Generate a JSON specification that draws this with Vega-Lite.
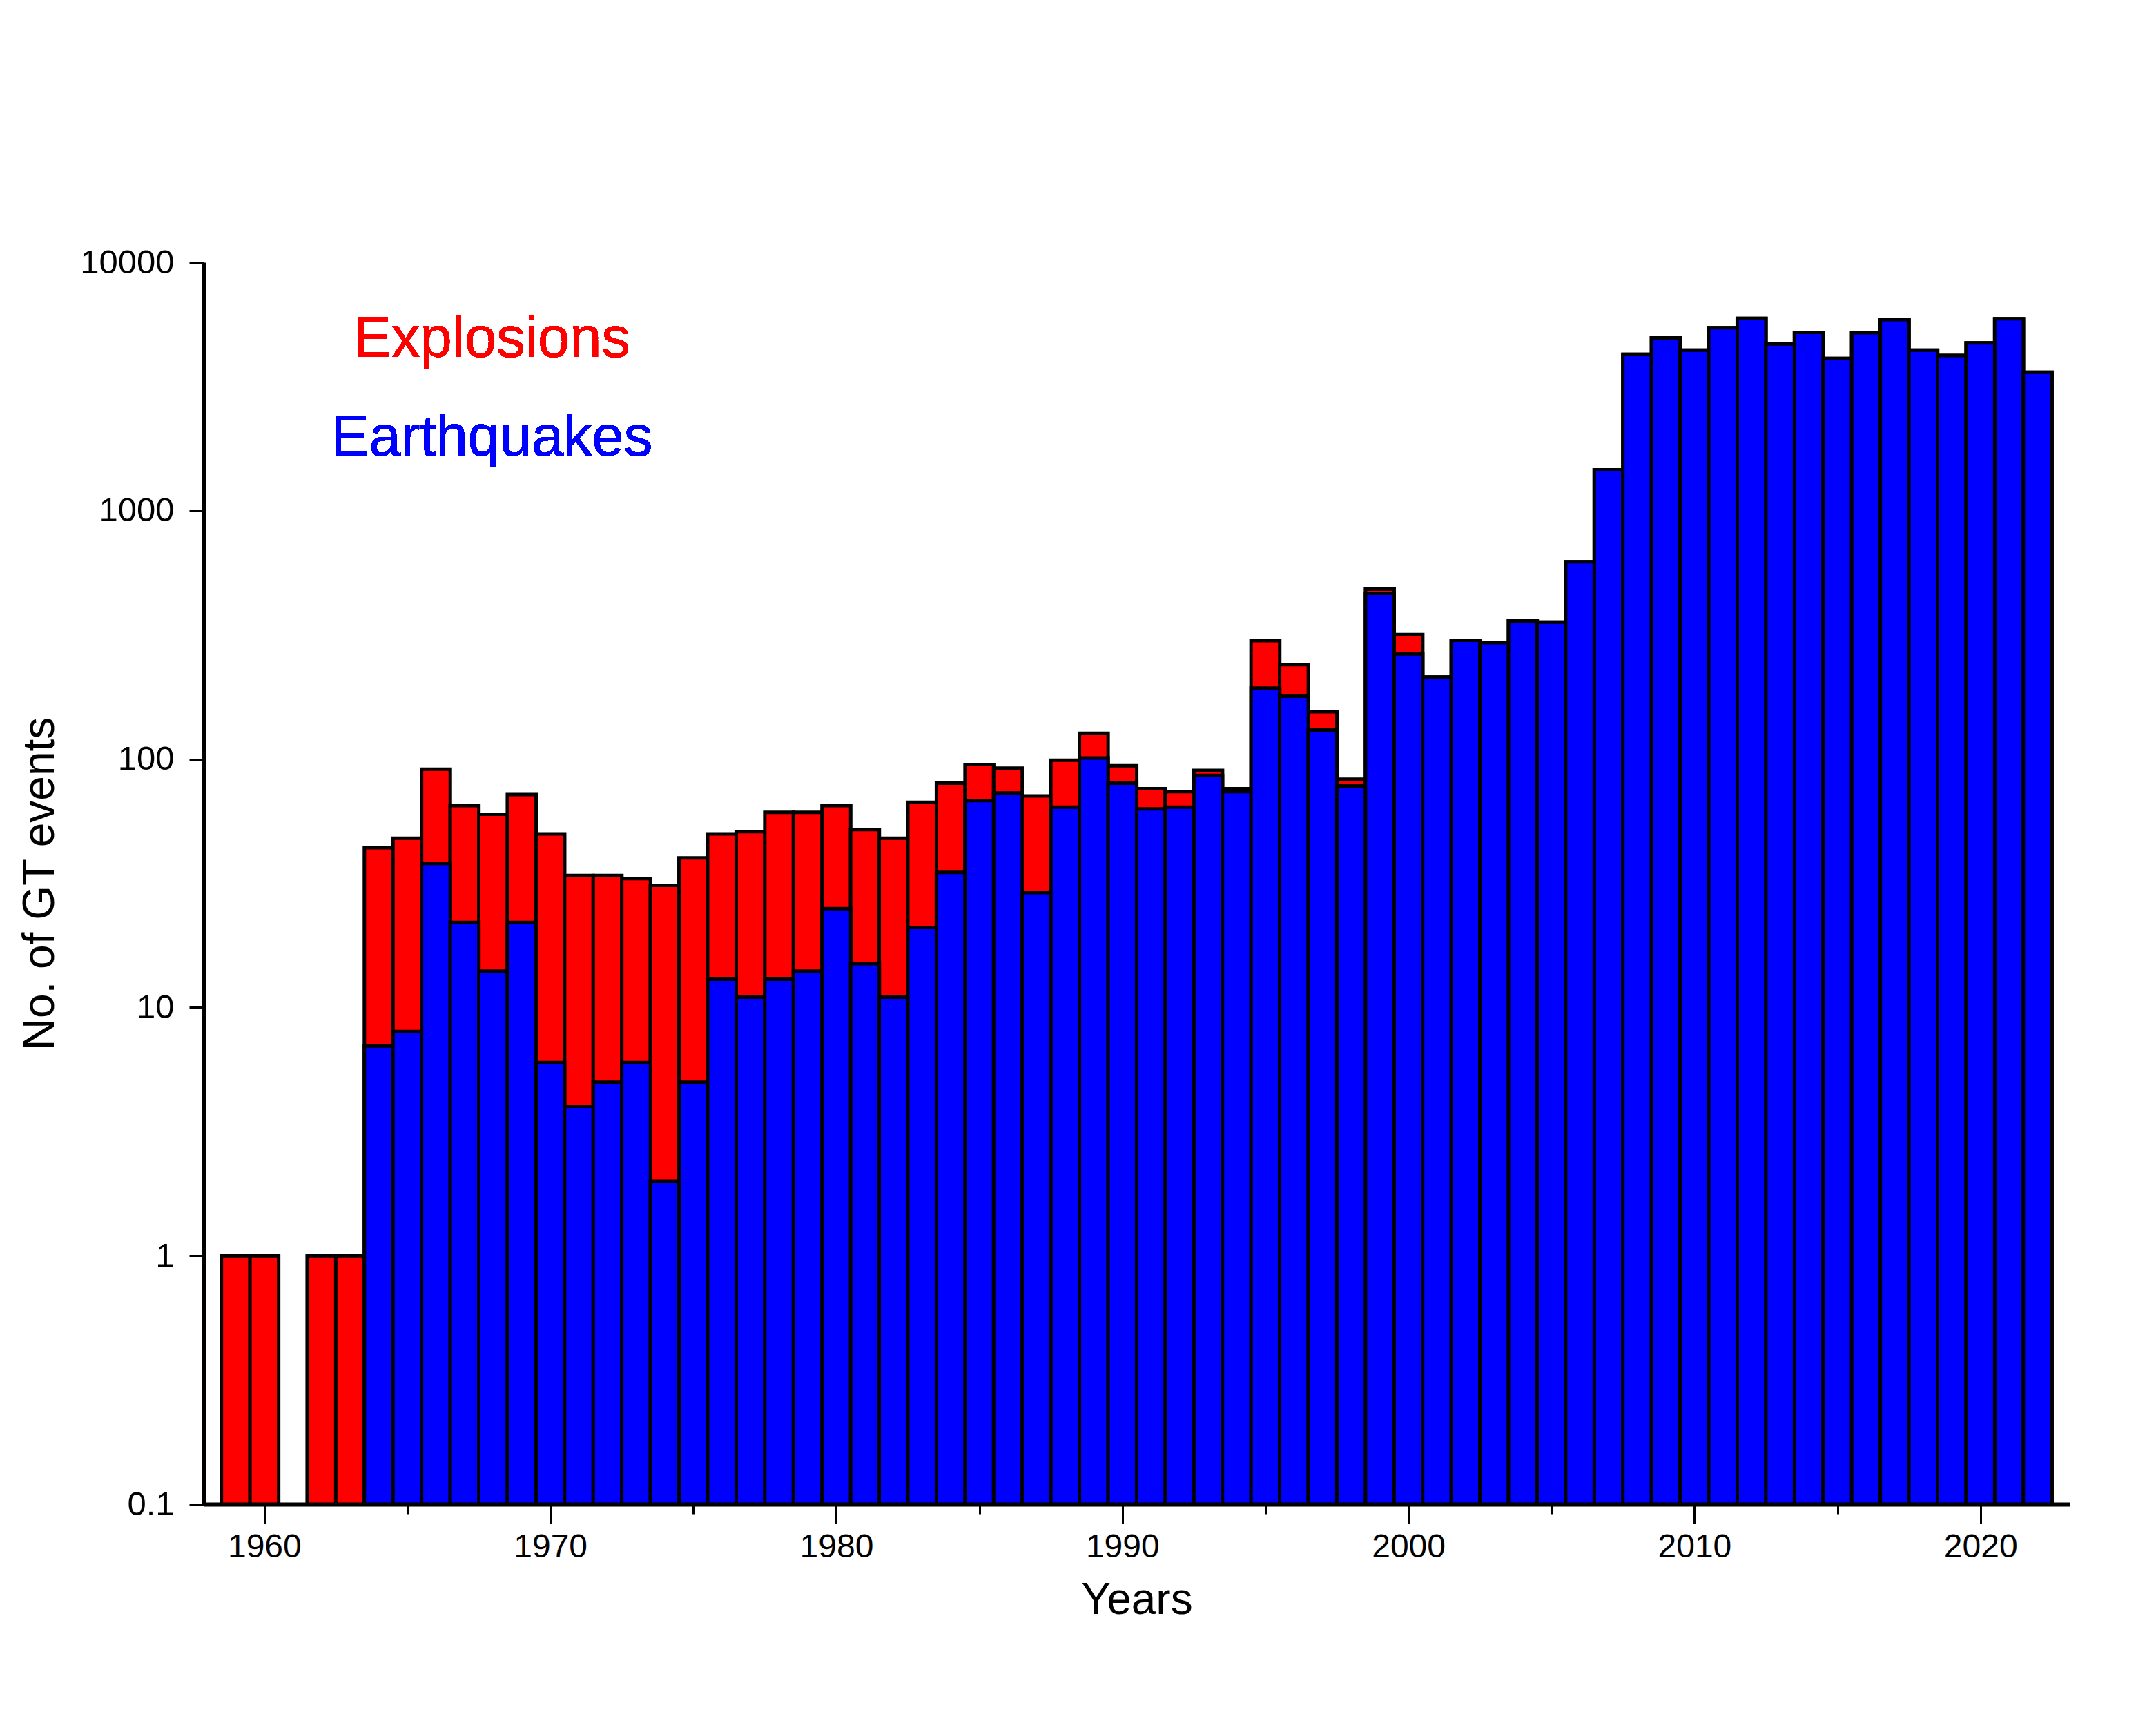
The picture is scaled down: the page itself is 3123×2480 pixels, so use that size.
{
  "$schema": "https://vega.github.io/schema/vega-lite/v6.json",
  "width": 2703,
  "height": 1799,
  "autosize": {"type": "none"},
  "padding": {"left": 295, "top": 380, "right": 125, "bottom": 301},
  "background": "white",
  "config": {"view": {"stroke": null}, "font": "Liberation Sans"},
  "data": {
    "values": [
      {"year": 1959, "total": 1, "eq": null},
      {"year": 1960, "total": 1, "eq": null},
      {"year": 1962, "total": 1, "eq": null},
      {"year": 1963, "total": 1, "eq": null},
      {"year": 1964, "total": 44, "eq": 7},
      {"year": 1965, "total": 48, "eq": 8},
      {"year": 1966, "total": 91, "eq": 38},
      {"year": 1967, "total": 65, "eq": 22},
      {"year": 1968, "total": 60, "eq": 14},
      {"year": 1969, "total": 72, "eq": 22},
      {"year": 1970, "total": 50, "eq": 6},
      {"year": 1971, "total": 34, "eq": 4},
      {"year": 1972, "total": 34, "eq": 5},
      {"year": 1973, "total": 33, "eq": 6},
      {"year": 1974, "total": 31, "eq": 2},
      {"year": 1975, "total": 40, "eq": 5},
      {"year": 1976, "total": 50, "eq": 13},
      {"year": 1977, "total": 51, "eq": 11},
      {"year": 1978, "total": 61, "eq": 13},
      {"year": 1979, "total": 61, "eq": 14},
      {"year": 1980, "total": 65, "eq": 25},
      {"year": 1981, "total": 52, "eq": 15},
      {"year": 1982, "total": 48, "eq": 11},
      {"year": 1983, "total": 67, "eq": 21},
      {"year": 1984, "total": 80, "eq": 35},
      {"year": 1985, "total": 95, "eq": 68},
      {"year": 1986, "total": 92, "eq": 73},
      {"year": 1987, "total": 71, "eq": 29},
      {"year": 1988, "total": 99, "eq": 64},
      {"year": 1989, "total": 127, "eq": 101},
      {"year": 1990, "total": 94, "eq": 80},
      {"year": 1991, "total": 76, "eq": 63},
      {"year": 1992, "total": 74, "eq": 64},
      {"year": 1993, "total": 90, "eq": 86},
      {"year": 1994, "total": 76, "eq": 74},
      {"year": 1995, "total": 300, "eq": 193},
      {"year": 1996, "total": 240, "eq": 179},
      {"year": 1997, "total": 155, "eq": 131},
      {"year": 1998, "total": 83, "eq": 78},
      {"year": 1999, "total": 483, "eq": 465},
      {"year": 2000, "total": 317, "eq": 265},
      {"year": 2001, "total": 214, "eq": 214},
      {"year": 2002, "total": 301, "eq": 301},
      {"year": 2003, "total": 294, "eq": 294},
      {"year": 2004, "total": 360, "eq": 360},
      {"year": 2005, "total": 356, "eq": 356},
      {"year": 2006, "total": 623, "eq": 623},
      {"year": 2007, "total": 1462, "eq": 1462},
      {"year": 2008, "total": 4260, "eq": 4260},
      {"year": 2009, "total": 4960, "eq": 4960},
      {"year": 2010, "total": 4426, "eq": 4426},
      {"year": 2011, "total": 5450, "eq": 5450},
      {"year": 2012, "total": 5950, "eq": 5950},
      {"year": 2013, "total": 4690, "eq": 4690},
      {"year": 2014, "total": 5225, "eq": 5225},
      {"year": 2015, "total": 4105, "eq": 4105},
      {"year": 2016, "total": 5210, "eq": 5210},
      {"year": 2017, "total": 5880, "eq": 5880},
      {"year": 2018, "total": 4426, "eq": 4426},
      {"year": 2019, "total": 4215, "eq": 4215},
      {"year": 2020, "total": 4735, "eq": 4735},
      {"year": 2021, "total": 5930, "eq": 5930},
      {"year": 2022, "total": 3610, "eq": 3610}
    ]
  },
  "layer": [
    {
      "mark": {"type": "bar", "fill": "#ff0000", "stroke": "black", "strokeWidth": 5, "size": 41.58},
      "encoding": {
        "x": {
          "field": "year", "type": "quantitative",
          "scale": {"domain": [1958, 2023], "nice": false, "zero": false},
          "axis": {
            "title": "Years",
            "values": [1960, 1965, 1970, 1975, 1980, 1985, 1990, 1995, 2000, 2005, 2010, 2015, 2020],
            "format": "d",
            "labelExpr": "datum.value % 10 === 0 ? datum.label : ''",
            "labelFontSize": 48, "labelColor": "black", "labelPadding": 10,
            "tickSize": {"condition": {"test": "datum.value % 10 === 0", "value": 28}, "value": 14},
            "tickWidth": 3, "tickColor": "black",
            "domainWidth": 6, "domainColor": "black",
            "grid": false, "labelFlush": false, "labelOverlap": false,
            "titleFontSize": 64, "titleFontWeight": "normal", "titleColor": "black", "titlePadding": 21
          }
        },
        "y": {
          "field": "total", "type": "quantitative",
          "scale": {"type": "log", "domain": [0.1, 10000], "nice": false},
          "axis": {
            "title": "No. of GT events",
            "values": [0.1, 1, 10, 100, 1000, 10000],
            "format": "~r",
            "labelFontSize": 49, "labelColor": "black", "labelPadding": 22,
            "tickSize": 21, "tickWidth": 3, "tickColor": "black",
            "domainWidth": 6, "domainColor": "black",
            "grid": false, "labelFlush": false, "labelOverlap": false,
            "titleFontSize": 64, "titleFontWeight": "normal", "titleColor": "black", "titlePadding": 25
          }
        },
        "y2": {"datum": 0.1}
      }
    },
    {
      "mark": {"type": "bar", "fill": "#0000ff", "stroke": "black", "strokeWidth": 5, "size": 41.58},
      "encoding": {
        "x": {"field": "year", "type": "quantitative", "title": "Years"},
        "y": {"field": "eq", "type": "quantitative", "title": "No. of GT events"},
        "y2": {"datum": 0.1}
      }
    },
    {
      "mark": {"type": "text", "text": "Explosions", "color": "#ff0000", "fontSize": 83, "align": "center", "baseline": "alphabetic"},
      "encoding": {"x": {"datum": 1967.95}, "y": {"datum": 4160}}
    },
    {
      "mark": {"type": "text", "text": "Earthquakes", "color": "#0000ff", "fontSize": 83, "align": "center", "baseline": "alphabetic"},
      "encoding": {"x": {"datum": 1967.95}, "y": {"datum": 1667}}
    }
  ]
}
